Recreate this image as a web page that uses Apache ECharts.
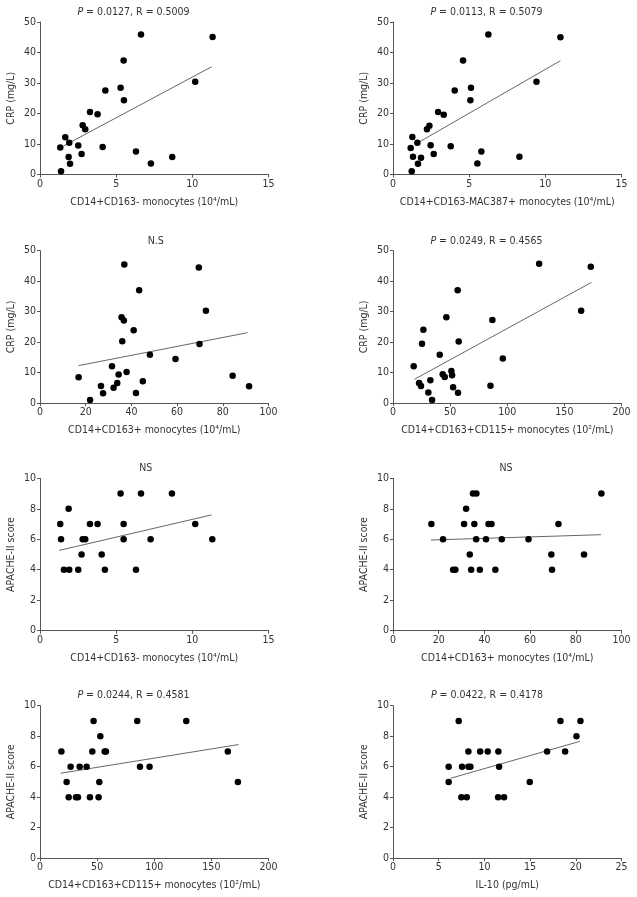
<!DOCTYPE html>
<html><head><meta charset="utf-8">
<script src="https://cdn.jsdelivr.net/npm/echarts@6/dist/echarts.min.js"></script>
<style>html,body{margin:0;padding:0;background:#fff}#c{width:637px;height:897px}</style>
</head><body><div id="c"></div>
<script>
// Panel A: CD14+CD163- monocytes (10^4/mL) vs CRP
const aX = [1.33,1.38,1.66,1.92,1.88,1.97,2.51,2.73,2.80,2.97,3.28,3.78,4.11,4.29,5.29,5.51,5.49,6.30,6.63,7.28,8.68,10.19,11.33];
const aY = [8.8,1.0,12.2,10.4,5.7,3.5,9.5,6.7,16.1,14.8,20.5,19.7,9.0,27.5,28.4,24.3,37.4,7.5,45.9,3.6,5.7,30.4,45.1];
const aTrendX = [1.53,11.26]; const aTrendY = [9.3,35.3];
// Panel B: CD14+CD163-MAC387+ monocytes vs CRP
const bX = [1.23,1.16,1.27,1.31,1.60,1.64,1.84,2.23,2.39,2.47,2.67,2.96,3.33,3.79,4.05,4.60,5.12,5.08,5.54,5.80,6.26,8.30,9.42,10.99];
const bY = [1.0,8.7,12.3,5.8,10.4,3.5,5.5,14.8,16.0,9.6,6.7,20.5,19.6,9.2,27.5,37.4,28.4,24.3,3.6,7.5,45.9,5.8,30.4,45.0];
const bTrendX = [1.64,10.99]; const bTrendY = [10.4,37.3];
// Panel C: CD14+CD163+ monocytes vs CRP
const cX = [16.9,21.9,26.7,27.6,31.5,32.2,33.8,34.4,35.7,36.7,36.0,36.9,37.9,41.0,42.0,43.4,45.0,48.1,59.3,69.5,69.8,72.6,84.3,91.5];
const cY = [8.5,1.0,5.6,3.2,12.1,5.0,6.6,9.4,28.2,27.1,20.3,45.5,10.2,23.9,3.3,37.0,7.2,15.9,14.5,44.5,19.4,30.3,9.0,5.5];
const cTrendX = [16.9,90.8]; const cTrendY = [12.3,23.1];
// Panel D: CD14+CD163+CD115+ monocytes (10^2/mL) vs CRP
const dX = [18.1,22.8,24.5,25.4,26.6,30.9,32.7,34.2,40.9,43.5,45.3,46.7,51.1,51.7,52.6,56.6,56.9,57.5,85.3,87.0,96.1,127.9,164.7,173.1];
const dY = [12.1,6.6,5.6,19.5,24.1,3.5,7.5,1.0,15.9,9.5,8.6,28.2,10.5,9.1,5.2,37.0,3.4,20.2,5.7,27.3,14.6,45.7,30.3,44.7];
const dTrendX = [18.7,173.7]; const dTrendY = [7.8,39.6];
// Panel E: CD14+CD163- monocytes vs APACHE-II
const eX = [1.33,1.38,1.57,1.88,1.92,2.51,2.73,2.80,2.97,3.28,3.78,4.05,4.26,5.29,5.49,5.49,6.30,6.63,7.26,8.66,10.19,11.31];
const eY = [7,6,4,8,4,4,5,6,6,7,7,5,4,9,7,6,4,9,6,9,7,6];
const eTrendX = [1.27,11.26]; const eTrendY = [5.27,7.6];
// Panel F: CD14+CD163+ monocytes vs APACHE-II
const fX = [16.8,21.9,26.3,27.3,31.1,32.0,33.6,34.2,35.0,35.6,36.5,36.4,38.0,40.7,41.8,43.1,44.8,47.6,59.3,69.3,69.6,72.4,83.6,91.2];
const fY = [7,6,4,4,7,8,5,4,9,7,9,6,4,6,7,7,4,6,6,5,4,7,5,9];
const fTrendX = [16.6,91.0]; const fTrendY = [5.95,6.3];
// Panel G: CD14+CD163+CD115+ monocytes vs APACHE-II
const gX = [18.7,23.3,25.1,26.8,31.5,33.2,34.7,40.8,43.7,45.8,46.9,51.3,51.9,52.8,56.6,57.7,85.1,87.5,95.9,128.0,164.4,173.2];
const gY = [7,5,4,6,4,4,6,6,4,7,9,4,5,8,7,7,9,6,6,9,7,5];
const gTrendX = [18.1,173.8]; const gTrendY = [5.57,7.45];
// Panel H: IL-10 vs APACHE-II
const hX = [6.09,6.09,7.19,7.48,7.55,8.07,8.25,8.25,8.47,9.53,10.36,11.50,11.53,11.61,12.15,14.96,16.86,18.32,18.83,20.07,20.51];
const hY = [5,6,9,4,6,4,7,6,6,7,7,4,7,6,4,5,7,9,7,8,9];
const hTrendX = [6.31,20.44]; const hTrendY = [5.24,7.66];

const titles = ['P|0.0127|0.5009','P|0.0113|0.5079','N.S','P|0.0249|0.4565','NS','NS','P|0.0244|0.4581','P|0.0422|0.4178'];
const xNames = ['CD14+CD163- monocytes (10⁴/mL)','CD14+CD163-MAC387+ monocytes (10⁴/mL)','CD14+CD163+ monocytes (10⁴/mL)','CD14+CD163+CD115+ monocytes (10²/mL)','CD14+CD163- monocytes (10⁴/mL)','CD14+CD163+ monocytes (10⁴/mL)','CD14+CD163+CD115+ monocytes (10²/mL)','IL-10 (pg/mL)'];
const yNames = ['CRP (mg/L)','CRP (mg/L)','CRP (mg/L)','CRP (mg/L)','APACHE-II score','APACHE-II score','APACHE-II score','APACHE-II score'];
const xMax = [15,15,100,200,15,100,200,25];
const xInterval = [5,5,20,50,5,20,50,5];
const yMax = [50,50,50,50,10,10,10,10];
const yInterval = [10,10,10,10,2,2,2,2];

const X = [aX,bX,cX,dX,eX,fX,gX,hX];
const Y = [aY,bY,cY,dY,eY,fY,gY,hY];
const TX = [aTrendX,bTrendX,cTrendX,dTrendX,eTrendX,fTrendX,gTrendX,hTrendX];
const TY = [aTrendY,bTrendY,cTrendY,dTrendY,eTrendY,fTrendY,gTrendY,hTrendY];

// layout
const gridLeft = [40,393];
const gridTop = [22,250.7,478.3,705.7];
const gridW = 228.5, gridH = 152.4;
const titleCx = [[133.5,486.5],[155.7,486.5],[145.7,506],[133.5,487]];
const titleCy = [12.3,241,468.3,695];

const FONT = 'DejaVu Sans Condensed';
const TXT = '#333';
const AX = '#555';

const grids=[], xAxes=[], yAxes=[], series=[], graphics=[];
for (let i=0;i<8;i++){
  const col=i%2, row=Math.floor(i/2);
  grids.push({left:gridLeft[col], top:gridTop[row], width:gridW, height:gridH});
  xAxes.push({gridIndex:i,type:'value',min:0,max:xMax[i],interval:xInterval[i],
    axisLine:{show:true,onZero:false,lineStyle:{color:AX,width:1}},
    axisTick:{show:true,length:3,lineStyle:{color:AX}},
    splitLine:{show:false},
    axisLabel:{color:TXT,fontSize:10.5,fontFamily:FONT,margin:4},
    name:xNames[i],nameLocation:'middle',nameGap:22,
    nameTextStyle:{color:TXT,fontSize:10.5,fontFamily:FONT}});
  yAxes.push({gridIndex:i,type:'value',min:0,max:yMax[i],interval:yInterval[i],
    axisLine:{show:true,onZero:false,lineStyle:{color:AX,width:1}},
    axisTick:{show:true,length:3,lineStyle:{color:AX}},
    splitLine:{show:false},
    axisLabel:{color:TXT,fontSize:10.5,fontFamily:FONT,margin:4},
    name:yNames[i],nameLocation:'middle',nameGap:23,
    nameTextStyle:{color:TXT,fontSize:10.5,fontFamily:FONT}});
  series.push({type:'scatter',xAxisIndex:i,yAxisIndex:i,symbolSize:6.5,
    itemStyle:{color:'#000',opacity:1},
    data:X[i].map((v,k)=>[v,Y[i][k]]),silent:true});
  series.push({type:'line',xAxisIndex:i,yAxisIndex:i,symbol:'none',
    lineStyle:{color:'#666',width:1},
    data:TX[i].map((v,k)=>[v,TY[i][k]]),silent:true,z:1});
  const t = titles[i];
  let text, rich = {i:{fontStyle:'italic',fontFamily:FONT,fontSize:10.5,fill:TXT}};
  if (t.indexOf('|')>=0){
    const p=t.split('|');
    text='{i|'+p[0]+'} = '+p[1]+', R = '+p[2];
  } else text=t;
  graphics.push({type:'text',x:titleCx[row][col],y:titleCy[row],
    style:{text:text,rich:rich,fill:TXT,fontSize:10.5,fontFamily:FONT,align:'center',verticalAlign:'middle'}});
}

const chart = echarts.init(document.getElementById('c'),null,{renderer:'canvas'});
chart.setOption({animation:false,backgroundColor:'#fff',grid:grids,xAxis:xAxes,yAxis:yAxes,series:series,graphic:graphics});
</script></body></html>
